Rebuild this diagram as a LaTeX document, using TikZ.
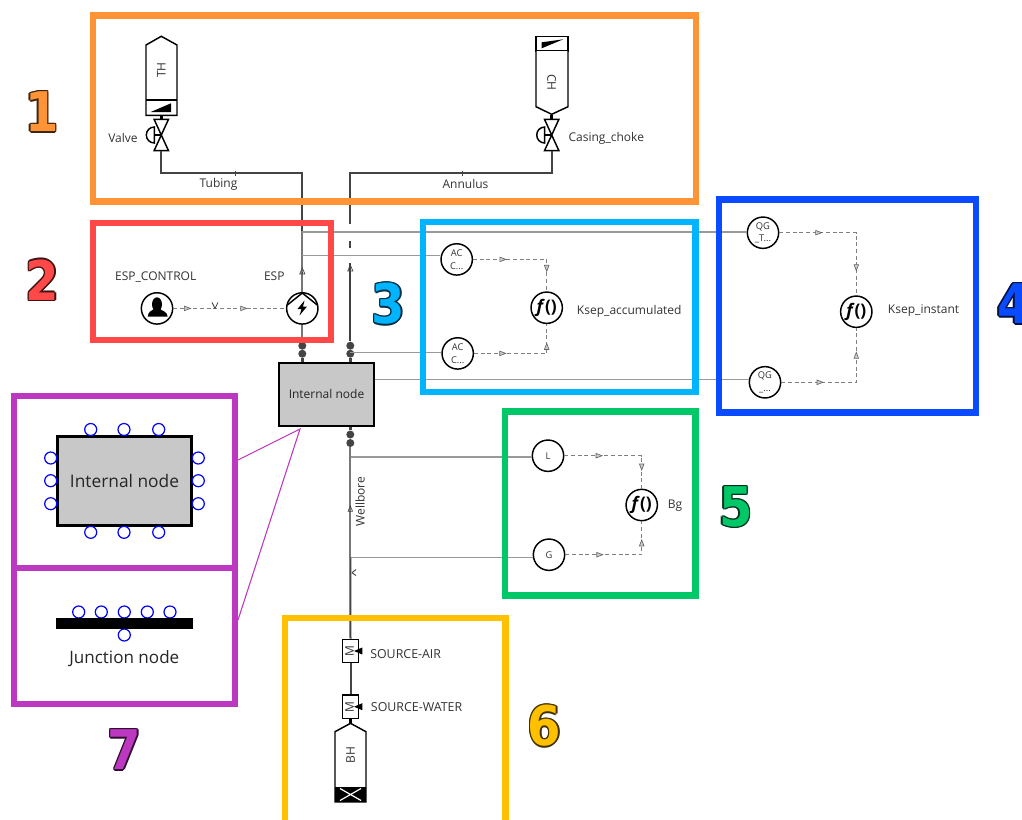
\documentclass[tikz,border=0pt]{standalone}
\usepackage{fontspec}
\usepackage{tikz}
\usepackage{xcolor}
\usetikzlibrary{arrows.meta,calc,decorations.markings}
\setmainfont{Open Sans}
\newfontfamily\digitfont[FakeStretch=0.88]{DejaVu Sans}
\definecolor{frameone}{HTML}{FF9436}
\definecolor{frametwo}{HTML}{FF4848}
\definecolor{framethree}{HTML}{00B4FF}
\definecolor{framefour}{HTML}{0A4BFF}
\definecolor{framefive}{HTML}{00C868}
\definecolor{framesix}{HTML}{FFC000}
\definecolor{frameseven}{HTML}{BC38C0}
\definecolor{labelink}{HTML}{333333}
\definecolor{pipedark}{HTML}{444444}
\definecolor{pipegray}{HTML}{777777}
\definecolor{sensorline}{HTML}{999999}
\definecolor{nodegray}{HTML}{C8C8C8}
\tikzset{
  framebox/.style={line width=4.6pt,draw=#1},
  tag/.style={font=\fontsize{9}{11}\selectfont,text=labelink,inner sep=0pt},
  bigtag/.style={font=\digitfont\fontsize{41}{41}\selectfont\bfseries,text=#1,inner sep=0pt},
  bigedge/.style={font=\digitfont\fontsize{41}{41}\selectfont\bfseries,text=#1!25!black,inner sep=0pt},
  sensor/.style={circle,draw=black,line width=1.1pt,fill=white,minimum size=23.5pt,inner sep=0pt,align=center,
    font=\fontsize{7}{9.5}\selectfont,text=labelink},
  func/.style={sensor,font=\fontsize{13}{13}\selectfont\bfseries\itshape,text=black},
  pipe/.style={draw=pipedark,line width=1.5pt},
  pipelight/.style={draw=pipegray,line width=1.5pt},
  tapline/.style={draw=sensorline,line width=1.1pt},
  signal/.style={draw=gray,line width=1pt,dash pattern=on 3pt off 2pt},
  flowtip/.style={solid,draw=black!60,line width=.5pt},
  tiptwo/.style 2 args={postaction={decorate},decoration={markings,
    mark=at position #1 with {\arrow[flowtip]{Triangle[open,fill=gray!40,length=5.5pt,width=4pt]}},
    mark=at position #2 with {\arrow[flowtip]{Triangle[open,fill=gray!40,length=5.5pt,width=4pt]}}}},
  shell/.style={draw=black,line width=1.1pt,fill=white},
  blob/.style={circle,fill=pipedark,minimum size=6pt,inner sep=0pt},
  port/.style={circle,draw=blue,line width=.9pt,fill=white,minimum size=9pt,inner sep=0pt},
  inode/.style={draw=black,fill=nodegray,inner sep=0pt,text=black!85},
  zoomline/.style={draw=frameseven,line width=.8pt},
}
\newcommand{\bignumber}[4]{%
  \foreach \dx/\dy in {-1.3/0,1.3/0,0/-1.3,0/1.3,-1/-1,1/1,-1/1,1/-1}
    \node[bigedge=#3] at (#1+\dx,#2+\dy) {#4};
  \node[bigtag=#3] at (#1,#2) {#4};
}
\begin{document}
\begin{tikzpicture}[x=0.75pt,y=-0.75pt]
\useasboundingbox (0,0) rectangle (1022,819);
\fill[white] (0,0) rectangle (1022,819);
\clip (0,0) rectangle (1022,819);

\draw[shell] (146,45) -- (161.3,36.3) -- (177,45) -- (177,115.3) -- (146,115.3) -- cycle;
\draw[shell] (146,100) -- (177,100);
\fill[black] (150.7,112) -- (171,103.3) -- (171,112) -- cycle;
\node[tag,rotate=90] (thlabel) at (161.3,70) {TH};
\draw[shell] (536,36.7) rectangle (568,51);
\draw[shell] (536,51) -- (536,106.7) -- (551.7,114.3) -- (568,106.7) -- (568,51);
\fill[black] (541.7,42.3) -- (563.3,39.3) -- (541.7,48.3) -- cycle;
\node[tag,rotate=-90] (chlabel) at (551.7,82.3) {CH};

\coordinate (valvea) at (161.3,135);
\coordinate (valveb) at (551.7,135);
\foreach \v in {valvea,valveb}{
  \draw[shell] (\v) -- ++(-7.2,-15.7) -- ++(14.4,0) -- cycle;
  \draw[shell] (\v) -- ++(-7.2,15.7) -- ++(14.4,0) -- cycle;
  \draw[shell] (\v) -- ++(-7,0);
  \draw[shell,fill=none] ($(\v)+(-7,8)$) arc (90:270:8) -- cycle;
  \draw[line width=2.4pt] ($(\v)+(0,-20)$) -- ($(\v)+(0,-15.7)$);
}
\node[tag] (valvelabel) at (123,138.3) {Valve};
\node[tag,anchor=west] (chokelabel) at (568.3,138.3) {Casing\_choke};

\coordinate (tubingbend) at (302.3,173.3);
\coordinate (tubingend) at (302.3,231);
\coordinate (annulusbend) at (350.3,173.3);
\coordinate (annulusend) at (350.3,224);
\coordinate (valveaout) at (161.3,150.7);
\coordinate (valvebout) at (551.7,150.7);
\node[tag] (tubinglabel) at (218.5,184) {Tubing};
\node[tag] (annuluslabel) at (465.5,184) {Annulus};
\draw[pipe] (valveaout) |- (tubingbend) -- (tubingend);
\draw[pipe] (valvebout) |- (annulusbend) -- (annulusend);
\draw[draw=pipedark,line width=.6pt] (235.7,170.5) -- (235.7,176);
\draw[draw=pipedark,line width=.6pt] (462,170.5) -- (462,176);

\node[inode,line width=1.5pt,minimum width=71pt,minimum height=47pt,font=\fontsize{9}{11}\selectfont] (internal) at (326.5,394.4) {Internal node};
\node[sensor] (espcontrol) at (157,308.4) {};
\node[sensor] (esp) at (302.3,308.4) {};
\node[tag] (espcontrollabel) at (155.7,277) {ESP\_CONTROL};
\node[tag] (esplabel) at (274.3,276.3) {ESP};
\fill[black] (157,304.3) ellipse (5 and 7);
\fill[black] (147.7,316.7) .. controls (148,311) and (152,311) .. (154,309) -- (160,309) .. controls (162,311) and (167,311) .. (167.7,316.7) -- cycle;
\draw[shell,fill=none] (287.3,305) -- (302.3,293) -- (317.3,305);
\fill[black] (304.5,300.5) -- (297.5,309) -- (301.5,309) -- (299.5,315.5) -- (307,306.5) -- (303,306.5) -- cycle;

\coordinate (annulusgap) at (350.3,241);
\coordinate (annulusgapend) at (350.3,248);
\coordinate (annuluslow) at (350.3,263);
\node[blob] (blobaone) at (302.3,345.7) {};
\node[blob] (blobatwo) at (302.3,353.7) {};
\node[blob] (blobbone) at (350.3,345.7) {};
\node[blob] (blobbtwo) at (350.3,353.7) {};
\node[blob] (blobcone) at (350.3,434.5) {};
\node[blob] (blobctwo) at (350.3,443) {};
\draw[pipelight] (tubingend) -- (esp.north);
\draw[pipelight] (esp.south) -- (blobaone);
\draw[pipe] (annulusgap) -- (annulusgapend);
\draw[draw=black!75,line width=1.5pt] (annuluslow) -- (blobbone);
\draw[line width=2.2pt,draw=pipedark] (blobatwo) -- (blobatwo |- internal.north);
\draw[line width=2.2pt,draw=pipedark] (blobbtwo) -- (blobbtwo |- internal.north);
\draw[line width=2.2pt,draw=pipedark] (blobcone) -- (blobcone |- internal.south);
\draw[-{Triangle[open,length=5.5pt,width=4.5pt]},draw=pipedark,line width=.5pt] (302.3,272) -- (302.3,267);
\draw[-{Triangle[open,length=5.5pt,width=4.5pt]},draw=pipedark,line width=.5pt] (350.3,272) -- (350.3,264);

\node[sensor] (acone) at (456.7,259.4) {AC\\C...};
\node[sensor] (actwo) at (457.7,353.4) {AC\\C...};
\node[func] (fksepacc) at (546.7,307.7) {f\textup{()}};
\node[tag,anchor=west] (ksepacclabel) at (576.7,311) {Ksep\_accumulated};
\node[sensor] (qgone) at (763,232.7) {QG\\\_T...};
\node[sensor] (qgtwo) at (765,382.3) {QG\\\_...};
\node[func] (fkspinst) at (856.3,311.7) {f\textup{()}};
\node[tag,anchor=west] (ksepinstlabel) at (887.7,310.7) {Ksep\_instant};
\node[sensor] (lsensor) at (548,455.7) {L};
\node[sensor] (gsensor) at (549,554.7) {G};
\node[func] (fbg) at (641.7,505) {f\textup{()}};
\node[tag] (bglabel) at (675,505.7) {Bg};

\coordinate (tapqgone) at (302.3,232);
\coordinate (tapacone) at (302.3,255.5);
\coordinate (tapactwo) at (350.3,352.7);
\coordinate (tapqgtwo) at (internal.east |- 0,379.7);
\coordinate (taplone) at (350.3,457);
\coordinate (tapgone) at (350.3,557.7);
\draw[tapline] (tapqgone) -- (qgone.west |- tapqgone);
\draw[tapline] (tapacone) -- (acone.west |- tapacone);
\draw[tapline] (tapactwo) -- (actwo.west |- tapactwo);
\draw[tapline] (tapqgtwo) -- (qgtwo.west |- tapqgtwo);
\draw[tapline] (taplone) -- (lsensor.west |- taplone);
\draw[tapline] (tapgone) -- (gsensor.west |- tapgone);

\draw[signal,postaction={decorate},decoration={markings,
  mark=at position .16 with {\arrow[flowtip]{Triangle[open,fill=gray!40,length=5.5pt,width=4pt]}},
  mark=at position .37 with {\draw[solid,draw=pipedark,line width=.6pt] (-3,-6) -- (0,0) -- (3,-6);},
  mark=at position .66 with {\arrow[flowtip]{Triangle[open,fill=gray!40,length=5.5pt,width=4pt]}}}]
  (espcontrol) -- (esp);
\draw[signal,tiptwo={.32}{.82}] (acone.east) -| (fksepacc.north);
\draw[signal,tiptwo={.32}{.82}] (actwo.east) -| (fksepacc.south);
\draw[signal,tiptwo={.31}{.83}] (qgone.east) -| (fkspinst.north);
\draw[signal,tiptwo={.33}{.82}] (qgtwo.east) -| (fkspinst.south);
\draw[signal,tiptwo={.35}{.84}] (lsensor.east) -| (fbg.north);
\draw[signal,tiptwo={.35}{.84}] (gsensor.east) -| (fbg.south);

\node[tag,rotate=90] (wellborelabel) at (360,501.7) {Wellbore};
\node[draw=black,line width=1.1pt,fill=white,minimum width=11.7pt,minimum height=17.5pt,inner sep=0pt] (sourceair) at (350.5,651) {};
\node[draw=black,line width=1.1pt,fill=white,minimum width=11.7pt,minimum height=17.5pt,inner sep=0pt] (sourcewater) at (350.5,706.7) {};
\node[tag,rotate=90] (mair) at (349.5,651) {M};
\node[tag,rotate=90] (mwater) at (349.5,706.7) {M};
\fill[black] (354,651) -- (362.3,647.5) -- (362.3,654.5) -- cycle;
\fill[black] (354,706.7) -- (362.3,703.2) -- (362.3,710.2) -- cycle;
\node[tag,anchor=west,font=\fontsize{9.3}{11}\selectfont] (airlabel) at (370,654) {SOURCE-AIR};
\node[tag,anchor=west,font=\fontsize{9.3}{11}\selectfont] (waterlabel) at (370.7,707) {SOURCE-WATER};
\coordinate (bhtop) at (350.5,723.3);
\coordinate (wellborelow) at (350.3,557.7);
\draw[pipelight] (blobctwo) -- (wellborelow);
\draw[pipe] (wellborelow) -- (sourceair.north);
\draw[pipe] (sourceair.south) -- (sourcewater.north);
\draw[line width=2.4pt] (sourcewater.south) -- (bhtop);
\draw[-{Triangle[open,length=5pt,width=4pt]},draw=pipedark,line width=.5pt] (350.3,511) -- (350.3,505);
\draw[draw=pipedark,line width=.7pt] (352,572.7) -- (356,569.5) (352,572.7) -- (356,575.5);
\draw[shell] (335,731.7) -- (bhtop) -- (366,731.7) -- (366,802) -- (335,802) -- cycle;
\fill[black] (335,786.7) rectangle (366,802);
\draw[white,line width=.9pt] (340,788.5) -- (361,800.5) (340,800.5) -- (361,788.5);
\node[tag,rotate=90] (bhlabel) at (350.5,755) {BH};

\node[inode,line width=2.2pt,minimum width=101pt,minimum height=67pt,font=\fontsize{13}{15}\selectfont] (bigbox) at (124.5,481) {Internal node};
\foreach \px in {90.7,124,158.7}{
  \node[port] at (\px,429.5) {};
  \node[port] at (\px,532.3) {};
}
\foreach \py in {458,480.7,503.7}{
  \node[port] at (50.7,\py) {};
  \node[port] at (198.3,\py) {};
}
\foreach \px in {78.7,101.3,124.3,147.3,170}{
  \node[port] at (\px,612) {};
}
\node[port] (junctionport) at (124.3,635) {};
\fill[black] (56,618.3) rectangle (192.7,629);
\node[font=\fontsize{12.8}{15}\selectfont,text=black!85,inner sep=0pt] (junctionlabel) at (124.3,659) {Junction node};

\coordinate (zoomtip) at (300,429);
\coordinate (zoomupper) at (238,460);
\coordinate (zoomlower) at (238,620);
\draw[zoomline] (zoomupper) -- (zoomtip) -- (zoomlower);

\draw[framebox=frameone] (93,15.5) rectangle (696,201.5);
\draw[framebox=frametwo] (93,223) rectangle (331,340);
\draw[framebox=framethree] (423,222) rectangle (695.5,392);
\draw[framebox=framefour] (719,199.5) rectangle (976,412.5);
\draw[framebox=framefive] (505,411.5) rectangle (695.5,595.5);
\draw[framebox=framesix] (285,830) -- (285,618) -- (505.5,618) -- (505.5,830);
\draw[framebox=frameseven] (14,396) rectangle (234.7,704);
\draw[framebox=frameseven] (14,568) -- (234.7,568);

\bignumber{42}{112}{frameone}{1}
\bignumber{42.5}{280}{frametwo}{2}
\bignumber{388.5}{304}{framethree}{3}
\bignumber{1014}{304}{framefour}{4}
\bignumber{736}{507}{framefive}{5}
\bignumber{544.5}{726}{framesix}{6}
\bignumber{124.5}{750}{frameseven}{7}
\end{tikzpicture}
\end{document}
